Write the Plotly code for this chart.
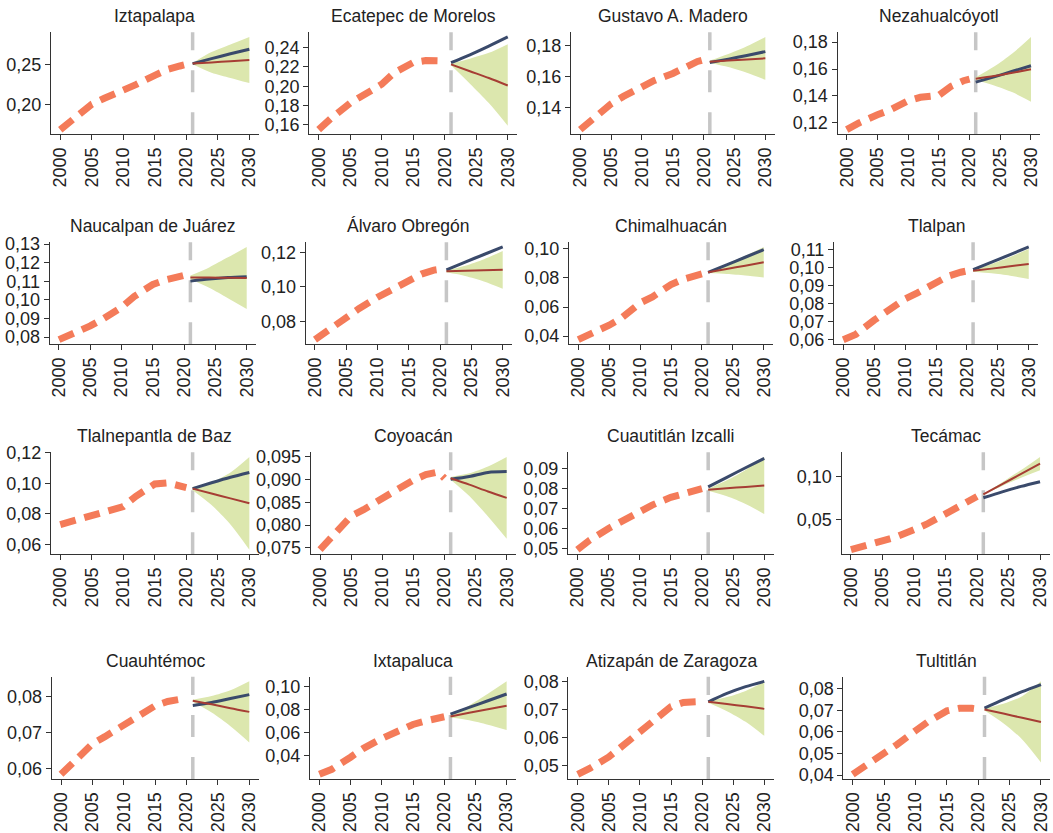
import plotly.graph_objects as go

# ---------------- data ----------------
NAMES = ["Iztapalapa", "Ecatepec de Morelos", "Gustavo A. Madero", "Nezahualcóyotl",
         "Naucalpan de Juárez", "Álvaro Obregón", "Chimalhuacán", "Tlalpan",
         "Tlalnepantla de Baz", "Coyoacán", "Cuautitlán Izcalli", "Tecámac",
         "Cuauhtémoc", "Ixtapaluca", "Atizapán de Zaragoza", "Tultitlán"]

HIST_YEARS = [2000, 2002, 2005, 2007, 2010, 2012, 2015, 2017, 2019, 2020]
FC_YEARS = [2021, 2024, 2027, 2030]
FORECAST_START = 2021
X_TICKS = [2000, 2005, 2010, 2015, 2020, 2025, 2030]

HIST = [
    [.168, .181, .200, .2075, .217, .2245, .2363, .2435, .248, .250],
    [.155, .167, .1825, .191, .202, .214, .2245, .2265, .2262, .221],
    [.126, .1325, .1425, .1473, .154, .1575, .162, .1664, .1697, .1708],
    [.115, .120, .126, .1295, .1364, .139, .1405, .1472, .1513, .1525],
    [.0786, .0812, .086, .0897, .096, .1018, .1083, .1107, .1127, .1132],
    [.0693, .0745, .0818, .0873, .094, .0977, .104, .1075, .1098, .1103],
    [.0375, .0413, .0475, .0525, .0628, .0670, .0755, .0792, .0818, .0828],
    [.060, .0629, .0708, .0757, .0826, .0859, .0919, .0952, .0973, .098],
    [.073, .0755, .079, .0815, .0848, .0915, .0995, .1003, .0985, .0972],
    [.0746, .0775, .082, .0834, .0856, .0875, .0899, .0911, .0917, .0903],
    [.0495, .0543, .0601, .0636, .0687, .0718, .0757, .0777, .0796, .0800],
    [.0148, .0188, .0248, .0293, .038, .0445, .0565, .065, .0726, .0768],
    [.0584, .0618, .0669, .0689, .0722, .0745, .0775, .0787, .0793, .079],
    [.0234, .0278, .0383, .0458, .0546, .0597, .0668, .0698, .0725, .0735],
    [.0469, .0491, .0531, .0567, .0625, .0662, .071, .0725, .0731, .0728],
    [.0403, .0441, .0499, .054, .0605, .0647, .0697, .0709, .0709, .0705],
]

BLUE = [
    [.251, .2572, .2633, .269],
    [.2243, .2325, .2415, .251],
    [.169, .1712, .1735, .176],
    [.1503, .1542, .1583, .1624],
    [.1101, .1112, .112, .1125],
    [.110, .1145, .1189, .1233],
    [.0839, .0891, .0943, .0995],
    [.0988, .1029, .1071, .1113],
    [.0965, .1003, .1039, .107],
    [.0901, .0907, .0916, .0918],
    [.0809, .0857, .0905, .0952],
    [.0754, .0823, .0886, .0941],
    [.0776, .0784, .0795, .0806],
    [.0758, .0816, .0874, .0933],
    [.0727, .0757, .0781, .080],
    [.071, .0749, .0786, .0819],
]

RED = [
    [.251, .2525, .254, .2555],
    [.2226, .2155, .2085, .2007],
    [.1695, .1703, .171, .1717],
    [.1528, .1548, .1572, .1598],
    [.1121, .112, .1119, .1118],
    [.1091, .1094, .1097, .110],
    [.0839, .0862, .0885, .0909],
    [.0981, .0993, .1006, .1018],
    [.0965, .0933, .0901, .0869],
    [.0903, .0889, .0874, .086],
    [.0795, .0802, .0809, .0816],
    [.0793, .0913, .1032, .1152],
    [.0789, .0779, .0768, .0758],
    [.0738, .0769, .08, .0831],
    [.0727, .0719, .0711, .0702],
    [.0704, .0685, .0665, .0646],
]

HI = [
    [.2518, .2655, .275, .2845],
    [.2236, .2285, .2345, .2435],
    [.1703, .1745, .1795, .1854],
    [.1538, .1618, .1717, .1838],
    [.1131, .1175, .1229, .1285],
    [.1097, .1124, .1162, .121],
    [.0844, .0897, .0953, .1014],
    [.0986, .1019, .1058, .1101],
    [.0975, .1008, .1071, .1172],
    [.0906, .0914, .0929, .095],
    [.080, .0842, .0894, .0959],
    [.0796, .0935, .1077, .123],
    [.0792, .0802, .0818, .0843],
    [.0748, .0834, .0935, .1043],
    [.073, .0744, .0766, .0798],
    [.0709, .073, .0765, .0834],
]

LO = [
    [.2502, .2395, .233, .2265],
    [.2216, .2025, .1825, .159],
    [.1687, .1661, .1625, .158],
    [.1518, .1478, .1427, .1358],
    [.1111, .1065, .1009, .0951],
    [.1085, .1064, .1032, .099],
    [.0834, .0827, .0817, .0804],
    [.0976, .0967, .0954, .0935],
    [.0955, .0858, .0731, .0566],
    [.090, .0864, .0819, .077],
    [.079, .0762, .0724, .0673],
    [.079, .0891, .0987, .1074],
    [.0786, .0756, .0718, .0673],
    [.0728, .0704, .0665, .0619],
    [.0724, .0694, .0656, .0606],
    [.0699, .064, .0565, .0458],
]

Y_TICKS = [
    [0.20, 0.25],
    [0.16, 0.18, 0.20, 0.22, 0.24],
    [0.14, 0.16, 0.18],
    [0.12, 0.14, 0.16, 0.18],
    [0.08, 0.09, 0.10, 0.11, 0.12, 0.13],
    [0.08, 0.10, 0.12],
    [0.04, 0.06, 0.08, 0.10],
    [0.06, 0.07, 0.08, 0.09, 0.10, 0.11],
    [0.06, 0.08, 0.10, 0.12],
    [0.075, 0.080, 0.085, 0.090, 0.095],
    [0.05, 0.06, 0.07, 0.08, 0.09],
    [0.05, 0.10],
    [0.06, 0.07, 0.08],
    [0.04, 0.06, 0.08, 0.10],
    [0.05, 0.06, 0.07, 0.08],
    [0.04, 0.05, 0.06, 0.07, 0.08],
]
Y_DECIMALS = [2, 2, 2, 2, 2, 2, 2, 2, 2, 3, 2, 2, 2, 2, 2, 2]

# ---------------- layout (pixels) ----------------
W, H = 1053, 833
PANEL_X = [
    (50.8, 258.8), (309.2, 517.2), (571, 774.6), (837.5, 1040.2),
    (49.6, 256.1), (305.6, 512.1), (569, 773), (834, 1038),
    (50.8, 258.8), (310.7, 516), (568, 773.6), (841.5, 1049.5),
    (51.6, 258.7), (310, 516), (568.4, 773.6), (843.3, 1050.4),
]
ROW_Y = [(32.3, 134.3), (242.3, 344.3), (452.3, 554.3), (676.7, 779)]

ORANGE = "#F47B59"
BLUE_C = "#3A4A6B"
RED_C = "#A63D34"
RIBBON = "#DCE7AE"
GRAY = "#C6C6C6"
AXIS_C = "#333333"
FONT = "Liberation Sans, Arial, sans-serif"
TICK_SIZE = 18
TITLE_SIZE = 17.5

fig = go.Figure()
layout = {}
annotations = []
shapes = []

for i, name in enumerate(NAMES):
    sfx = "" if i == 0 else str(i + 1)
    xa, ya = "x" + sfx, "y" + sfx
    common = dict(xaxis=xa, yaxis=ya, showlegend=False, hoverinfo="skip")

    fig.add_trace(go.Scatter(x=FC_YEARS, y=LO[i], mode="lines",
                             line=dict(width=0, shape="spline", smoothing=0.8), **common))
    fig.add_trace(go.Scatter(x=FC_YEARS, y=HI[i], mode="lines",
                             line=dict(width=0, shape="spline", smoothing=0.8),
                             fill="tonexty", fillcolor=RIBBON, **common))
    fig.add_trace(go.Scatter(x=HIST_YEARS, y=HIST[i], mode="lines",
                             line=dict(color=ORANGE, width=7, dash="16px,9px"), **common))
    fig.add_trace(go.Scatter(x=FC_YEARS, y=BLUE[i], mode="lines",
                             line=dict(color=BLUE_C, width=3, shape="spline", smoothing=0.8), **common))
    fig.add_trace(go.Scatter(x=FC_YEARS, y=RED[i], mode="lines",
                             line=dict(color=RED_C, width=2, shape="spline", smoothing=0.8), **common))

    vals = HIST[i] + BLUE[i] + RED[i] + HI[i] + LO[i]
    vmin, vmax = min(vals), max(vals)
    pad = 0.05 * (vmax - vmin)

    row = i // 4
    x0, x1 = PANEL_X[i]
    y0, y1 = ROW_Y[row]
    xdom = [x0 / W, x1 / W]
    ydom = [1 - y1 / H, 1 - y0 / H]
    fmt = "{:.%df}" % Y_DECIMALS[i]

    layout["xaxis" + sfx] = dict(
        domain=xdom, anchor=ya, range=[1998.5, 2031.5], automargin=False,
        tickmode="array", tickvals=X_TICKS, ticktext=[str(t) for t in X_TICKS],
        tickangle=-90, ticks="outside", ticklen=5, tickwidth=1, tickcolor=AXIS_C,
        showline=True, linecolor=AXIS_C, linewidth=1, showgrid=False, zeroline=False,
        tickfont=dict(size=TICK_SIZE, color="#222222", family=FONT), fixedrange=True)
    layout["yaxis" + sfx] = dict(
        domain=ydom, anchor=xa, range=[vmin - pad, vmax + pad], automargin=False,
        tickmode="array", tickvals=Y_TICKS[i],
        ticktext=[fmt.format(v).replace(".", ",") for v in Y_TICKS[i]],
        ticks="outside", ticklen=5, tickwidth=1, tickcolor=AXIS_C,
        showline=True, linecolor=AXIS_C, linewidth=1, showgrid=False, zeroline=False,
        tickfont=dict(size=TICK_SIZE, color="#222222", family=FONT), fixedrange=True)

    shapes.append(dict(type="line", xref=xa, yref=ya + " domain",
                       x0=FORECAST_START, x1=FORECAST_START, y0=0, y1=1,
                       line=dict(color=GRAY, width=3.5, dash="22px,20px"), layer="below"))

    annotations.append(dict(text=name, xref="paper", yref="paper",
                            x=(x0 + x1) / 2 / W, y=1 - (y0 - 16) / H,
                            xanchor="center", yanchor="middle", showarrow=False,
                            font=dict(size=TITLE_SIZE, color="#222222", family=FONT)))

fig.update_layout(
    width=W, height=H, margin=dict(l=0, r=0, t=0, b=0, autoexpand=False),
    paper_bgcolor="white", plot_bgcolor="white",
    separators=",.", annotations=annotations, shapes=shapes,
    font=dict(family=FONT), **layout)

fig.write_html("out.html",
               config={"displayModeBar": False},
               post_script="document.body.style.margin='0';document.body.style.overflow='hidden';")
